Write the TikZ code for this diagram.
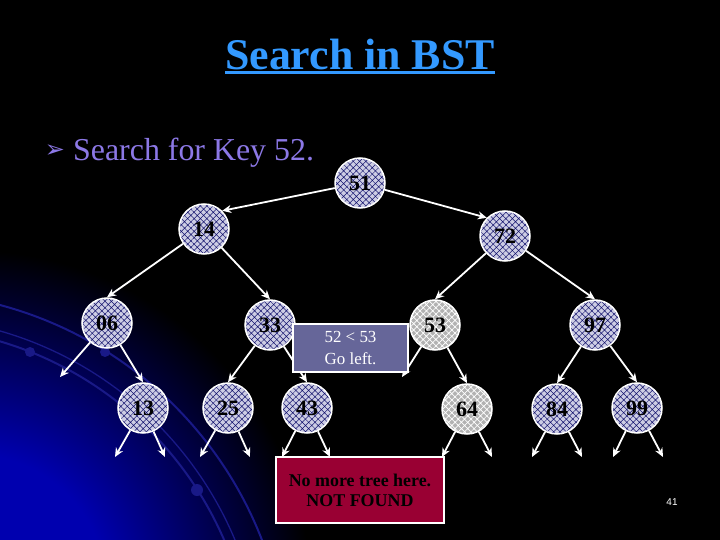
\documentclass[tikz,border=0pt]{standalone}
\usepackage{fontspec}
\setmainfont{Liberation Serif}
\newfontfamily\symfont{DejaVu Sans}
\newfontfamily\pagefont{Liberation Sans}
\usetikzlibrary{arrows.meta, automata, backgrounds, patterns.meta}

\definecolor{titleblue}{RGB}{51,153,255}
\definecolor{keypurple}{RGB}{140,120,230}
\definecolor{nodefill}{RGB}{205,205,228}
\definecolor{hatchblue}{RGB}{20,20,110}
\definecolor{greyfill}{RGB}{178,178,178}
\definecolor{hintblue}{RGB}{102,102,153}
\definecolor{failred}{RGB}{153,0,51}
\definecolor{glowblue}{RGB}{0,0,175}
\definecolor{arcblue}{RGB}{25,25,135}

\pgfdeclareradialshading{glow}{\pgfpointorigin}{color(0bp)=(glowblue); color(10bp)=(glowblue); color(25bp)=(black); color(50bp)=(black)}

\begin{document}
\begin{tikzpicture}[
            x=1bp, y=-1bp,
            background rectangle/.style={fill=black},
            show background rectangle,
            inner frame sep=0pt,
            link/.style={-{Stealth[length=9bp,width=8bp]}, draw=white, line width=1.8bp},
            arcline/.style={draw=arcblue, line width=2bp},
            hatched/.style={
                preaction={fill=nodefill},
                preaction={pattern={Hatch[angle=45,distance=4.5bp,line width=.5bp]}, pattern color=hatchblue}
            },
            greyed/.style={
                preaction={fill=greyfill},
                preaction={pattern={Hatch[angle=45,distance=4.5bp,line width=.7bp]}, pattern color=white}
            }
        ]

        \useasboundingbox (0,0) rectangle (720,540);

        % glow in the lower left corner
        \begin{scope}
            \clip (0,0) rectangle (720,540);
            \shade[shading=glow] (-30,590) circle (340);
            \draw[arcline] (-100,680) circle (353);
            \draw[arcline, line width=1.3bp] (-100,680) circle (363);
            \draw[arcline] (-100,680) circle (388);
            \fill[arcblue] (30,352) circle (5) (105,352) circle (5) (197,490) circle (6);
        \end{scope}

        % heading
        \node[anchor=base, inner sep=0pt, text=titleblue,
            font=\fontsize{44}{48}\selectfont\bfseries] (title) at (360,70) {Search in BST};
        \draw[titleblue, line width=3bp] ([yshift=-2.5bp]title.base west) -- ([yshift=-2.5bp]title.base east);

        \node[text=keypurple, font=\symfont\fontsize{24}{26}\selectfont] (mark) at (55,151) {➢};
        \node[anchor=base west, inner sep=0pt, text=keypurple,
            font=\fontsize{32}{36}\selectfont] (key) at (73,161) {Search for Key 52.};

        \tikzstyle{every state}=[
            shape=circle,
            draw=white,
            line width=1.5bp,
            minimum size=50bp,
            inner sep=0pt,
            text=black,
            font=\fontsize{22}{24}\selectfont\bfseries
        ]

        \node[state, hatched] (n51) at (360,183) {51};
        \node[state, hatched] (n14) at (204,229) {14};
        \node[state, hatched] (n72) at (505,236) {72};
        \node[state, hatched] (n06) at (107,323) {06};
        \node[state, hatched] (n33) at (270,325) {33};
        \node[state, greyed]  (n53) at (435,325) {53};
        \node[state, hatched] (n97) at (595,325) {97};
        \node[state, hatched] (n13) at (143,408) {13};
        \node[state, hatched] (n25) at (228,408) {25};
        \node[state, hatched] (n43) at (307,408) {43};
        \node[state, greyed]  (n64) at (467,409) {64};
        \node[state, hatched] (n84) at (557,409) {84};
        \node[state, hatched] (n99) at (637,408) {99};

        % empty subtrees
        \coordinate (e06a) at (60,377);
        \coordinate (e13a) at (115,457);
        \coordinate (e13b) at (165,457);
        \coordinate (e25a) at (200,457);
        \coordinate (e25b) at (250,457);
        \coordinate (e43a) at (282,457);
        \coordinate (e43b) at (330,457);
        \coordinate (e53a) at (402,377);
        \coordinate (e64a) at (442,457);
        \coordinate (e64b) at (492,457);
        \coordinate (e84a) at (532,457);
        \coordinate (e84b) at (582,457);
        \coordinate (e99a) at (613,457);
        \coordinate (e99b) at (663,457);

        \path[link] (n51) edge (n14.north east);
        \path[link] (n51) edge (n72.north west);
        \path[link] (n14) edge (n06.north);
        \path[link] (n14) edge (n33.north);
        \path[link] (n72) edge (n53.north);
        \path[link] (n72) edge (n97.north);
        \path[link] (n06) edge (e06a);
        \path[link] (n06) edge (n13.north);
        \path[link] (n33) edge (n25.north);
        \path[link] (n33) edge (n43.north);
        \path[link] (n53) edge (e53a);
        \path[link] (n53) edge (n64.north);
        \path[link] (n97) edge (n84.north);
        \path[link] (n97) edge (n99.north);
        \path[link] (n13) edge (e13a);
        \path[link] (n13) edge (e13b);
        \path[link] (n25) edge (e25a);
        \path[link] (n25) edge (e25b);
        \path[link] (n43) edge (e43a);
        \path[link] (n43) edge (e43b);
        \path[link] (n64) edge (e64a);
        \path[link] (n64) edge (e64b);
        \path[link] (n84) edge (e84a);
        \path[link] (n84) edge (e84b);
        \path[link] (n99) edge (e99a);
        \path[link] (n99) edge (e99b);

        \node[draw=white, line width=1.2bp, fill=hintblue, text=white, align=center,
            minimum width=115bp, minimum height=48bp, inner sep=0pt,
            font=\fontsize{17}{22}\selectfont] (hint) at (350.5,348) {52 < 53\\Go left.};
        \node[draw=white, line width=2bp, fill=failred, text=black, align=center,
            minimum width=168bp, minimum height=66bp, inner sep=0pt,
            font=\fontsize{18}{20}\selectfont\bfseries] (miss) at (360,490) {No more tree here.\\NOT FOUND};

        \node[text=white, font=\pagefont\fontsize{10}{12}\selectfont] (page) at (672,502) {41};

    \end{tikzpicture}
\end{document}
